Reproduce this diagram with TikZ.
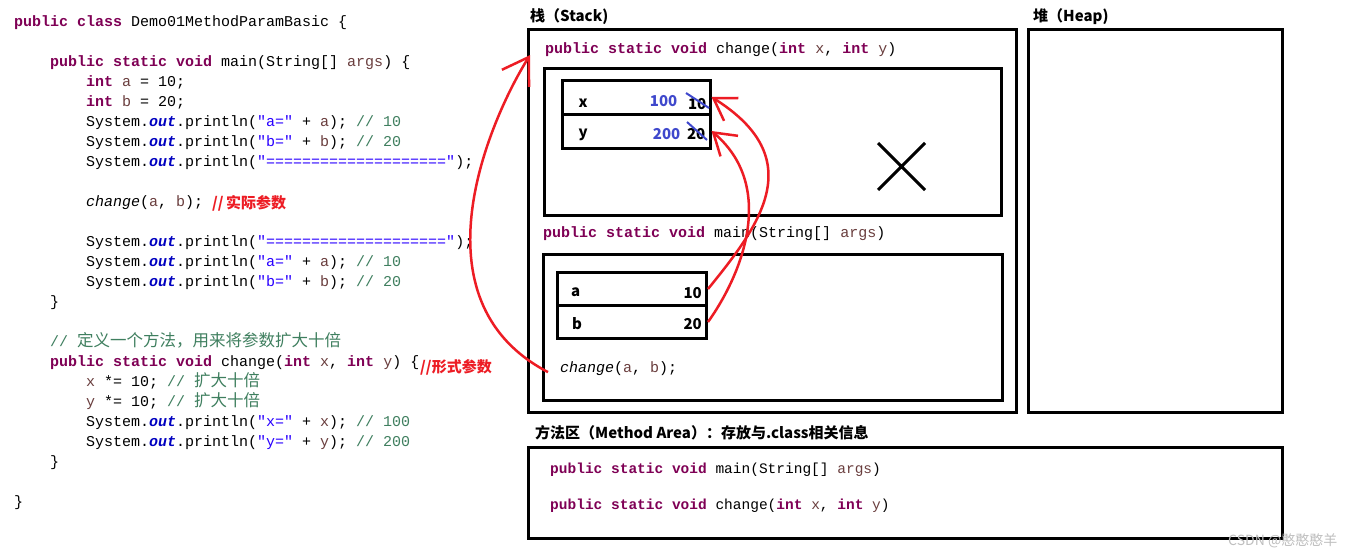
\documentclass[tikz,border=0pt]{standalone}
\usepackage{fontspec}
\setmainfont{Liberation Sans}
\newfontfamily\cjk{Noto Sans CJK SC}
\newfontfamily\codefont{Liberation Mono}[Ligatures=TeXOff]
\usepackage{tikz}
\usetikzlibrary{arrows.meta,positioning}

\definecolor{kwpurple}{HTML}{7F0055}
\definecolor{strblue}{HTML}{2A00FF}
\definecolor{comgreen}{HTML}{3F7F5F}
\definecolor{varbrown}{HTML}{6A3E3E}
\definecolor{outblue}{HTML}{0000C0}
\definecolor{penred}{HTML}{ED1C24}
\definecolor{penblue}{HTML}{3F48CC}

\newcommand\jkw[1]{\textcolor{kwpurple}{\bfseries #1}}
\newcommand\jstr[1]{\textcolor{strblue}{#1}}
\newcommand\jcom[1]{\textcolor{comgreen}{#1}}
\newcommand\jvar[1]{\textcolor{varbrown}{#1}}
\newcommand\jout{\textcolor{outblue}{\bfseries\itshape out}}
\newcommand\zh[1]{{\cjk\fontsize{16.5}{20}\selectfont #1}}

\begin{document}
\begin{tikzpicture}[
    x=1pt, y=-1pt,
    % 代码文字
    codeblk/.style={
        font=\codefont\fontsize{15}{20}\selectfont,
        align=left,
        anchor=north west,
        inner sep=0pt
    },
    code/.style={
        font=\codefont\fontsize{15}{18}\selectfont,
        anchor=base west,
        inner sep=0pt
    },
    % 区域标题
    lbl/.style={
        font=\cjk\bfseries\fontsize{15}{18}\selectfont,
        anchor=base west,
        inner sep=0pt
    },
    % 方框
    frame/.style={draw=black, line width=3pt},
    cell/.style={
        draw=black,
        line width=3pt,
        minimum width=148pt,
        inner sep=0pt
    },
    celltxt/.style={
        font=\cjk\bfseries\fontsize{15}{18}\selectfont,
        inner sep=0pt
    },
    redtxt/.style={
        font=\cjk\bfseries\fontsize{15}{18}\selectfont,
        text=penred,
        anchor=base west,
        inner sep=0pt
    },
    strike/.style={draw=penblue, line width=2pt},
    redarrow/.style={
        draw=penred,
        line width=2.5pt,
        -{Straight Barb[length=21pt,width=27pt]}
    }
]

    \fill[white] (0,0) rectangle (1351,557);
    \useasboundingbox (0,0) rectangle (1351,557);

    % --- 1. 代码 ---
    \node[codeblk] (src) at (14,15) {%
\jkw{public} \jkw{class} Demo01MethodParamBasic \{\\[20pt]
\hspace*{36pt}\jkw{public} \jkw{static} \jkw{void} main(String[] \jvar{args}) \{\\
\hspace*{72pt}\jkw{int} \jvar{a} = 10;\\
\hspace*{72pt}\jkw{int} \jvar{b} = 20;\\
\hspace*{72pt}System.\jout.println(\jstr{"a="} + \jvar{a}); \jcom{// 10}\\
\hspace*{72pt}System.\jout.println(\jstr{"b="} + \jvar{b}); \jcom{// 20}\\
\hspace*{72pt}System.\jout.println(\jstr{"===================="});\\[20pt]
\hspace*{72pt}\textit{change}(\jvar{a}, \jvar{b});\\[20pt]
\hspace*{72pt}System.\jout.println(\jstr{"===================="});\\
\hspace*{72pt}System.\jout.println(\jstr{"a="} + \jvar{a}); \jcom{// 10}\\
\hspace*{72pt}System.\jout.println(\jstr{"b="} + \jvar{b}); \jcom{// 20}\\
\hspace*{36pt}\}\\[20pt]
\hspace*{36pt}\jcom{// \zh{定义一个方法，用来将参数扩大十倍}}\\
\hspace*{36pt}\jkw{public} \jkw{static} \jkw{void} change(\jkw{int} \jvar{x}, \jkw{int} \jvar{y}) \{\\
\hspace*{72pt}\jvar{x} *= 10; \jcom{// \zh{扩大十倍}}\\
\hspace*{72pt}\jvar{y} *= 10; \jcom{// \zh{扩大十倍}}\\
\hspace*{72pt}System.\jout.println(\jstr{"x="} + \jvar{x}); \jcom{// 100}\\
\hspace*{72pt}System.\jout.println(\jstr{"y="} + \jvar{y}); \jcom{// 200}\\
\hspace*{36pt}\}\\[20pt]
\}};

    \node[redtxt] (actual) at (212,208) {//\,实际参数};
    \node[redtxt] (formal) at (420,372) {//形式参数};

    % --- 2. 栈 / 堆 ---
    \node[lbl] (stacklbl) at (530,21) {栈（Stack)};
    \node[lbl] (heaplbl) at (1033,21) {堆（Heap)};
    \draw[frame] (528,29) rectangle (1016,412);
    \draw[frame] (1028,29) rectangle (1282,412);

    % change 栈帧
    \node[code] (chgsig) at (545,53) {\jkw{public} \jkw{static} \jkw{void} change(\jkw{int} \jvar{x}, \jkw{int} \jvar{y})};
    \draw[frame] (544,68) rectangle (1001,215);
    \node[cell, minimum height=34pt] (xcell) at (636,97) {};
    \node[cell, minimum height=34pt] (ycell) at (636,131) {};
    \node[celltxt, anchor=base west] at ([xshift=18pt,yshift=-10pt]xcell.west) {x};
    \node[celltxt, anchor=base east, text=penblue] at ([xshift=-34pt,yshift=-9pt]xcell.east) {100};
    \node[celltxt, anchor=base east] at ([xshift=-5pt,yshift=-12pt]xcell.east) {10};
    \node[celltxt, anchor=base west] at ([xshift=18pt,yshift=-6pt]ycell.west) {y};
    \node[celltxt, anchor=base east, text=penblue] at ([xshift=-31pt,yshift=-8pt]ycell.east) {200};
    \node[celltxt, anchor=base east] at ([xshift=-6pt,yshift=-8pt]ycell.east) {20};
    \draw[strike] (686,93) -- (709,108);
    \draw[strike] (687,122) -- (707,140);
    \draw[line width=3pt] (878,143) -- (925,190) (925,143) -- (878,190);

    % main 栈帧
    \node[code] (mainsig) at (543,237) {\jkw{public} \jkw{static} \jkw{void} main(String[] \jvar{args})};
    \draw[frame] (543,254) rectangle (1002,400);
    \node[cell, minimum height=33pt, minimum width=149pt] (acell) at (632,289) {};
    \node[cell, minimum height=33pt, minimum width=149pt] (bcell) at (632,322) {};
    \node[celltxt, anchor=base west] at ([xshift=15pt,yshift=-7pt]acell.west) {a};
    \node[celltxt, anchor=base east] at ([xshift=-6pt,yshift=-9pt]acell.east) {10};
    \node[celltxt, anchor=base west] at ([xshift=16pt,yshift=-7pt]bcell.west) {b};
    \node[celltxt, anchor=base east] at ([xshift=-6pt,yshift=-7pt]bcell.east) {20};
    \node[code] (callab) at (560,372) {\textit{change}(\jvar{a}, \jvar{b});};

    % --- 3. 方法区 ---
    \node[lbl] (malbl) at (535,438) {方法区（Method Area）：存放与.class相关信息};
    \draw[frame] (528,447) rectangle (1282,538);
    \node[code, font=\codefont\fontsize{14.5}{18}\selectfont] (mamain) at (550,473) {\jkw{public} \jkw{static} \jkw{void} main(String[] \jvar{args})};
    \node[code, font=\codefont\fontsize{14.5}{18}\selectfont] (machg) at (550,509) {\jkw{public} \jkw{static} \jkw{void} change(\jkw{int} \jvar{x}, \jkw{int} \jvar{y})};

    % --- 4. 红色箭头 ---
    \draw[redarrow] (acell.east) .. controls (760,225) and (810,159) .. (xcell.east);
    \draw[redarrow] (bcell.east) .. controls (745,270) and (775,185) .. (ycell.east);
    \draw[redarrow, -{Straight Barb[length=25pt,width=32pt]}] ([xshift=-12pt,yshift=-4pt]callab.west) .. controls (410,300) and (490,119) .. ([xshift=-15pt,yshift=-6pt]chgsig.west);

    \node[anchor=base west, inner sep=0pt, text=black!25, font=\cjk\fontsize{14}{18}\selectfont] (mark) at (1228,545) {CSDN @憨憨憨羊};

\end{tikzpicture}
\end{document}
